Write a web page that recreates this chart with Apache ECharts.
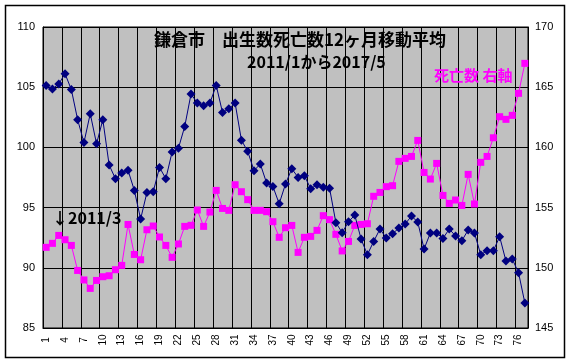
<!DOCTYPE html>
<html><head><meta charset="utf-8">
<script src="https://cdn.jsdelivr.net/npm/echarts@6/dist/echarts.min.js"></script>
<style>html,body{margin:0;padding:0;background:#fff}#c{width:571px;height:363px}</style>
</head><body><div id="c"></div>
<script>
var categories = [];
for (var i = 1; i <= 77; i++) categories.push(String(i));

var births = [105.15,104.85,105.27,106.12,104.8,102.3,100.4,102.8,100.3,102.3,
98.54,97.4,97.87,98.1,96.43,94.05,96.26,96.32,98.34,97.4,
99.62,99.93,101.74,104.43,103.69,103.46,103.69,105.15,102.9,103.2,
103.69,100.6,99.67,98.07,98.62,97.04,96.76,95.32,96.96,98.23,
97.51,97.65,96.57,96.9,96.68,96.6,93.75,92.92,93.82,94.38,
92.39,91.09,92.19,93.22,92.47,92.83,93.3,93.64,94.3,93.8,
91.56,92.89,92.89,92.44,93.22,92.64,92.25,93.14,92.89,91.09,
91.42,91.42,92.58,90.56,90.73,89.59,87.08];

var deaths = [151.7,152.03,152.69,152.33,151.86,149.78,148.99,148.29,148.95,149.26,
149.34,149.84,150.2,153.6,151.11,150.67,153.16,153.47,152.56,151.86,
150.87,151.98,153.44,153.53,154.8,153.44,154.63,156.43,154.93,154.77,
156.9,156.32,155.66,154.77,154.77,154.66,153.83,152.53,153.33,153.52,
151.28,152.53,152.61,153.11,154.33,154.0,152.78,151.4,152.19,153.52,
153.6,153.66,155.94,156.26,156.74,156.82,158.84,159.09,159.25,160.58,
157.92,157.37,158.67,156.01,155.35,155.63,155.18,157.76,155.3,158.76,
159.25,160.8,162.55,162.33,162.66,164.49,166.98];

var leftTicks = [85, 110, 5];
var rightTicks = [145, 170, 5];

var titleLine1 = '鎌倉市　出生数死亡数12ヶ月移動平均';
var titleLine2 = '2011/1から2017/5';
var noteRight = '死亡数 右軸';
var noteArrow = '↓2011/3';

var chart = echarts.init(document.getElementById('c'), null, {renderer: 'canvas'});
var jp = '"Noto Sans CJK JP", sans-serif';
var lat = '"Liberation Sans", Arial, sans-serif';
chart.setOption({
  animation: false,
  backgroundColor: '#ffffff',
  grid: {left: 43, top: 27, width: 485, height: 301, show: true, backgroundColor: '#C0C0C0', borderColor: '#000', borderWidth: 1},
  xAxis: {
    type: 'category', data: categories, boundaryGap: true,
    axisLine: {lineStyle: {color: '#000', width: 1}},
    axisTick: {show: false},
    axisLabel: {interval: 2, rotate: 90, align: 'center', verticalAlign: 'middle', margin: 12, color: '#000', fontFamily: lat, fontSize: 10},
    splitLine: {show: true, interval: 2, lineStyle: {color: '#000', width: 1}}
  },
  yAxis: [
    {type: 'value', min: leftTicks[0], max: leftTicks[1], interval: leftTicks[2],
     axisLine: {show: true, lineStyle: {color: '#000'}}, axisTick: {show: false},
     axisLabel: {color: '#000', fontFamily: lat, fontSize: 11, margin: 8},
     splitLine: {show: true, lineStyle: {color: '#000', width: 1}}},
    {type: 'value', min: rightTicks[0], max: rightTicks[1], interval: rightTicks[2], position: 'right',
     axisLine: {show: true, lineStyle: {color: '#000'}}, axisTick: {show: false},
     axisLabel: {color: '#000', fontFamily: lat, fontSize: 11, margin: 7},
     splitLine: {show: false}}
  ],
  series: [
    {name: '出生数', type: 'line', yAxisIndex: 0, data: births, symbol: 'diamond', symbolSize: 9, showAllSymbol: true,
     itemStyle: {color: '#000080'}, lineStyle: {color: '#000080', width: 1}, z: 3},
    {name: '死亡数', type: 'line', yAxisIndex: 1, data: deaths, symbol: 'rect', symbolSize: 7, showAllSymbol: true,
     itemStyle: {color: '#FF00FF'}, lineStyle: {color: '#FF00FF', width: 1}, z: 2}
  ],
  graphic: [
    {type: 'rect', shape: {x: 5.5, y: 5.5, width: 559, height: 352}, style: {fill: null, stroke: '#000', lineWidth: 1.5}, silent: true},
    {type: 'text', left: 154, top: 31, style: {text: titleLine1, font: 'bold 17px ' + jp, fill: '#000'}, z: 10},
    {type: 'text', left: 247, top: 54, style: {text: titleLine2, font: 'bold 16px ' + jp, fill: '#000'}, z: 10},
    {type: 'text', left: 434, top: 68, style: {text: noteRight, font: 'bold 15px ' + jp, fill: '#FF00FF'}, z: 10},
    {type: 'text', left: 52, top: 210, style: {text: noteArrow, font: 'bold 16px ' + jp, fill: '#000'}, z: 10}
  ]
});
</script></body></html>
